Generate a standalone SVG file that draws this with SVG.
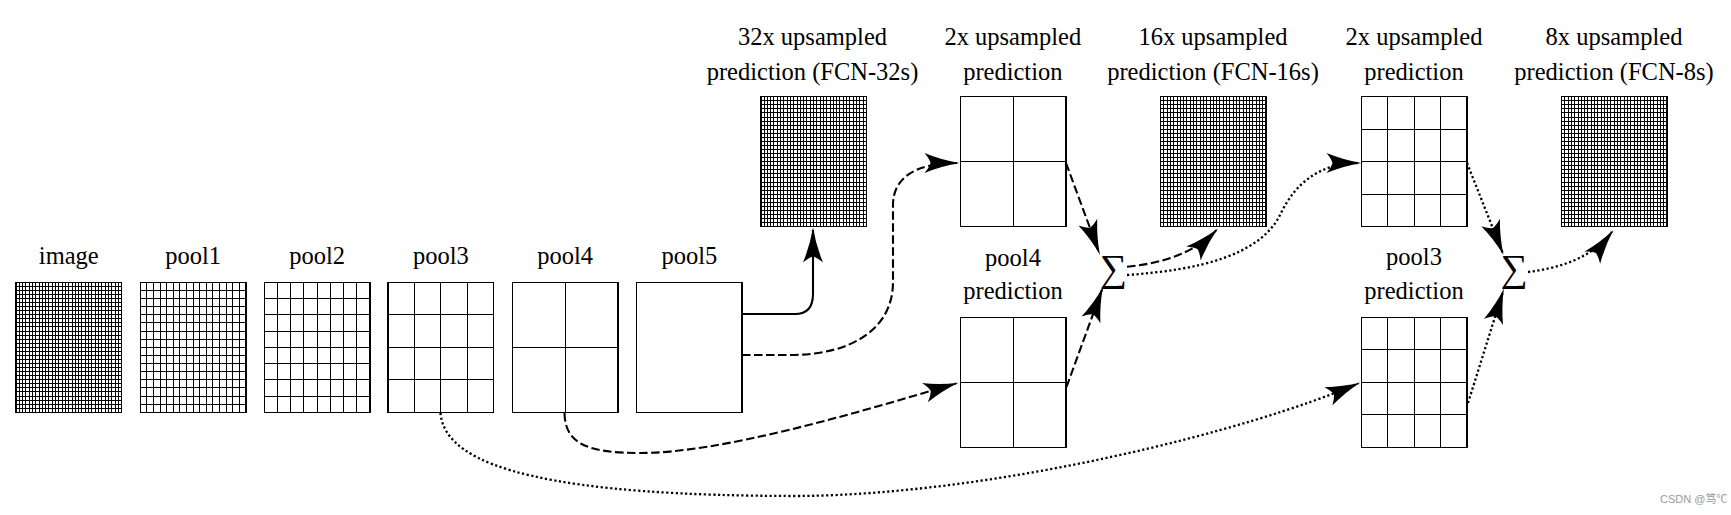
<svg xmlns="http://www.w3.org/2000/svg" xmlns:xlink="http://www.w3.org/1999/xlink" width="1731" height="515" viewBox="0 0 1731 515">
<style>
.lbl{font-family:"Liberation Serif","Times New Roman",serif;font-size:24.5px;fill:#000;text-anchor:middle}
.sum{font-family:"Liberation Serif","Times New Roman",serif;font-size:38px;fill:#000;text-anchor:middle}
.wm{font-family:"Liberation Sans","Noto Sans CJK SC",sans-serif;font-size:11px;fill:#9a9a9a}
.gl{fill:none;stroke:#000;stroke-width:1;shape-rendering:crispEdges}
.bx{fill:#fff;stroke:#000;stroke-width:1.5;shape-rendering:crispEdges}
.c{fill:none;stroke:#000;stroke-width:2.1;marker-end:url(#arr)}
.dash{stroke-dasharray:8.5 3.5}
.dot{stroke-width:2.3;stroke-dasharray:2.2 2.5}
</style>
<defs>
<marker id="arr" viewBox="-37 -11 38 22" refX="-2.5" refY="0" markerWidth="38" markerHeight="22" markerUnits="userSpaceOnUse" orient="auto" overflow="visible">
<path d="M0,0 Q-18,-3 -35,-10 Q-30,-4 -29,0 Q-30,4 -35,10 Q-18,3 0,0 Z" fill="#000"/>
</marker>
<g id="g32">
<rect class="bx" width="105.6" height="130"/>
<path class="gl" d="M3.3,0v130m3.3,-130v130m3.3,-130v130m3.3,-130v130m3.3,-130v130m3.3,-130v130m3.3,-130v130m3.3,-130v130m3.3,-130v130m3.3,-130v130m3.3,-130v130m3.3,-130v130m3.3,-130v130m3.3,-130v130m3.3,-130v130m3.3,-130v130m3.3,-130v130m3.3,-130v130m3.3,-130v130m3.3,-130v130m3.3,-130v130m3.3,-130v130m3.3,-130v130m3.3,-130v130m3.3,-130v130m3.3,-130v130m3.3,-130v130m3.3,-130v130m3.3,-130v130m3.3,-130v130m3.3,-130v130"/>
<path class="gl" d="M0,4.0625h105.6m-105.6,4.0625h105.6m-105.6,4.0625h105.6m-105.6,4.0625h105.6m-105.6,4.0625h105.6m-105.6,4.0625h105.6m-105.6,4.0625h105.6m-105.6,4.0625h105.6m-105.6,4.0625h105.6m-105.6,4.0625h105.6m-105.6,4.0625h105.6m-105.6,4.0625h105.6m-105.6,4.0625h105.6m-105.6,4.0625h105.6m-105.6,4.0625h105.6m-105.6,4.0625h105.6m-105.6,4.0625h105.6m-105.6,4.0625h105.6m-105.6,4.0625h105.6m-105.6,4.0625h105.6m-105.6,4.0625h105.6m-105.6,4.0625h105.6m-105.6,4.0625h105.6m-105.6,4.0625h105.6m-105.6,4.0625h105.6m-105.6,4.0625h105.6m-105.6,4.0625h105.6m-105.6,4.0625h105.6m-105.6,4.0625h105.6m-105.6,4.0625h105.6m-105.6,4.0625h105.6"/>
</g>
<g id="g16">
<rect class="bx" width="105.6" height="130"/>
<path class="gl" d="M6.6,0v130m6.6,-130v130m6.6,-130v130m6.6,-130v130m6.6,-130v130m6.6,-130v130m6.6,-130v130m6.6,-130v130m6.6,-130v130m6.6,-130v130m6.6,-130v130m6.6,-130v130m6.6,-130v130m6.6,-130v130m6.6,-130v130"/>
<path class="gl" d="M0,8.125h105.6m-105.6,8.125h105.6m-105.6,8.125h105.6m-105.6,8.125h105.6m-105.6,8.125h105.6m-105.6,8.125h105.6m-105.6,8.125h105.6m-105.6,8.125h105.6m-105.6,8.125h105.6m-105.6,8.125h105.6m-105.6,8.125h105.6m-105.6,8.125h105.6m-105.6,8.125h105.6m-105.6,8.125h105.6m-105.6,8.125h105.6"/>
</g>
<g id="g8">
<rect class="bx" width="105.6" height="130"/>
<path class="gl" d="M13.2,0v130m13.2,-130v130m13.2,-130v130m13.2,-130v130m13.2,-130v130m13.2,-130v130m13.2,-130v130"/>
<path class="gl" d="M0,16.25h105.6m-105.6,16.25h105.6m-105.6,16.25h105.6m-105.6,16.25h105.6m-105.6,16.25h105.6m-105.6,16.25h105.6m-105.6,16.25h105.6"/>
</g>
<g id="g4">
<rect class="bx" width="105.6" height="130"/>
<path class="gl" d="M26.4,0v130M52.8,0v130M79.2,0v130M0,32.5h105.6M0,65h105.6M0,97.5h105.6"/>
</g>
<g id="g2">
<rect class="bx" width="105.6" height="130"/>
<path class="gl" d="M52.8,0v130M0,65h105.6"/>
</g>
<g id="g1">
<rect class="bx" width="105.6" height="130"/>
</g>
</defs>
<rect width="1731" height="515" fill="#fff"/>

<g id="image"><text class="lbl" x="68.8" y="264">image</text><use xlink:href="#g32" x="16" y="282.3"/></g>
<g id="pool1"><text class="lbl" x="193.1" y="264">pool1</text><use xlink:href="#g16" x="140.3" y="282.3"/></g>
<g id="pool2"><text class="lbl" x="317.1" y="264">pool2</text><use xlink:href="#g8" x="264.3" y="282.3"/></g>
<g id="pool3"><text class="lbl" x="440.8" y="264">pool3</text><use xlink:href="#g4" x="388" y="282.3"/></g>
<g id="pool4"><text class="lbl" x="565.1" y="264">pool4</text><use xlink:href="#g2" x="512.3" y="282.3"/></g>
<g id="pool5"><text class="lbl" x="689.3" y="264">pool5</text><use xlink:href="#g1" x="636.5" y="282.3"/></g>

<g id="fcn32"><text class="lbl" x="812.5" y="44.5">32x upsampled</text><text class="lbl" x="812.5" y="80">prediction (FCN-32s)</text><use xlink:href="#g32" x="760.8" y="96.7"/></g>
<g id="up2a"><text class="lbl" x="1012.8" y="44.5">2x upsampled</text><text class="lbl" x="1012.8" y="80">prediction</text><use xlink:href="#g2" x="960.3" y="96.7"/></g>
<g id="fcn16"><text class="lbl" x="1213" y="44.5">16x upsampled</text><text class="lbl" x="1213" y="80">prediction (FCN-16s)</text><use xlink:href="#g32" x="1160.5" y="96.7"/></g>
<g id="up2b"><text class="lbl" x="1414" y="44.5">2x upsampled</text><text class="lbl" x="1414" y="80">prediction</text><use xlink:href="#g4" x="1361.3" y="96.7"/></g>
<g id="fcn8"><text class="lbl" x="1614" y="44.5">8x upsampled</text><text class="lbl" x="1614" y="80">prediction (FCN-8s)</text><use xlink:href="#g32" x="1561.5" y="96.7"/></g>

<g id="pool4pred"><text class="lbl" x="1013" y="266">pool4</text><text class="lbl" x="1013" y="298.5">prediction</text><use xlink:href="#g2" x="960.3" y="317.3"/></g>
<g id="pool3pred"><text class="lbl" x="1414" y="265">pool3</text><text class="lbl" x="1414" y="298.5">prediction</text><use xlink:href="#g4" x="1361.3" y="317.3"/></g>

<g id="sum1"><text class="sum" x="1113.5" y="281">∑</text></g>
<g id="sum2"><text class="sum" x="1514.2" y="281">∑</text></g>

<g id="connectors">
<path class="c" d="M742,314 H795 C807,314 813,308 813,294 V230"/>
<path class="c dash" d="M742,355 H790 C850,355 893,330 893,282 V205 C893,178 915,163 957,163"/>
<path class="c dash" d="M1066,163 L1099.1,252.6"/>
<path class="c dash" d="M1066.5,387 L1102.1,289.4"/>
<path class="c dash" d="M564.5,413 C565,445 590,453 640,453 C720,453 850,415 956.1,383.4"/>
<path class="c dot" d="M440.5,413 C445,470 560,496 800,496 C1000,494 1250,430 1358.2,383.5"/>
<path class="c dash" d="M1127,266.7 C1165,263 1195,252 1216.2,230.3"/>
<path class="c dot" d="M1127,275 C1200,270 1260,255 1280,215 C1295,183 1320,163 1359,163"/>
<path class="c dot" d="M1467,163 L1502.6,252.7"/>
<path class="c dot" d="M1468,403 L1503.2,290.9"/>
<path class="c dot" d="M1528,272 C1560,268 1592,258 1611.9,231.9"/>
</g>

<text class="wm" x="1660" y="503">CSDN @笃℃</text>
</svg>
